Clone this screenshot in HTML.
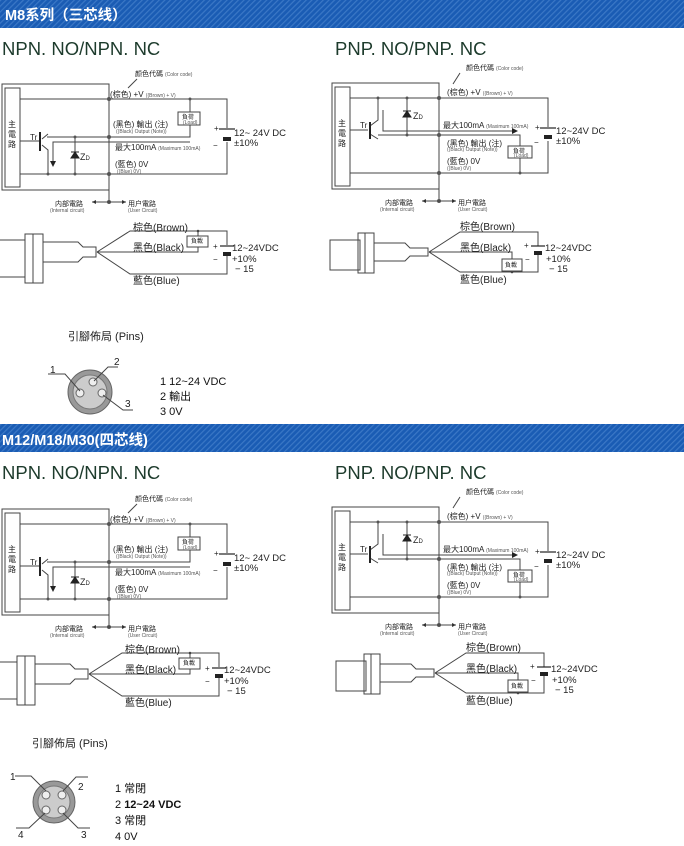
<!DOCTYPE html>
<html><head><meta charset="utf-8"><style>
html,body{margin:0;padding:0;background:#fff;width:684px;height:846px;overflow:hidden}
svg{display:block}
text{font-family:"Liberation Sans","Noto Sans CJK SC",sans-serif;fill:#222}
.l{stroke:#444;stroke-width:1;fill:none}
.s{font-size:5px;fill:#555}
.m{font-size:8px}
.t{font-size:18.5px;fill:#1d3b2c}
.p{font-size:11px;fill:#111}
</style></head><body>
<svg width="684" height="846" viewBox="0 0 684 846" xmlns="http://www.w3.org/2000/svg">
<defs>
<pattern id="st" width="4" height="4" patternUnits="userSpaceOnUse" patternTransform="rotate(45)">
<rect width="4" height="4" fill="#1a5cb4"/><rect width="1.2" height="4" fill="#3b78c6"/></pattern>
</defs>
<rect x="0" y="0" width="684" height="28" fill="url(#st)"/>
<text x="5" y="20" style="font-size:14.5px;font-weight:bold;fill:#fff">M8系列（三芯线）</text>
<rect x="0" y="424" width="684" height="28" fill="url(#st)"/>
<text x="2" y="445" style="font-size:14.5px;font-weight:bold;fill:#fff">M12/M18/M30(四芯线)</text>

<text class="t" x="2" y="55">NPN. NO/NPN. NC</text>
<text class="t" x="335" y="55">PNP. NO/PNP. NC</text>
<text class="t" x="2" y="479">NPN. NO/NPN. NC</text>
<text class="t" x="335" y="479">PNP. NO/PNP. NC</text>

<!-- NPN schematic -->
<g id="npn1">
<rect class="l" x="2" y="84" width="107" height="106"/>
<rect class="l" x="5" y="88" width="15" height="99"/>
<text x="8" y="127" style="font-size:8px">主</text><text x="8" y="137" style="font-size:8px">電</text><text x="8" y="147" style="font-size:8px">路</text>
<path class="l" d="M20 99H227V128M227 142V174H20M109 84V202M47 137H190V125M190 112V99M20 141H40M42 139L48 134M42 145L48 150V174M75 137V174M190 142H53V162"/>
<path d="M40 132V151" stroke="#222" stroke-width="2"/>
<path d="M50 161L53 167L56 161Z" fill="#222"/>
<path d="M71 152H79M71 158H79L75 152Z" fill="#222" stroke="#222" stroke-width="1"/>
<text x="80" y="160" style="font-size:9px">Z<tspan style="font-size:6px">D</tspan></text>
<text x="30" y="140" style="font-size:8px">Tr</text>
<rect class="l" x="178" y="112" width="22" height="13" fill="#fff"/>
<text x="182" y="119" style="font-size:6px">負荷</text><text x="183" y="124" class="s">(Load)</text>
<g fill="#555"><circle cx="109" cy="99" r="2"/><circle cx="109" cy="137" r="2"/><circle cx="109" cy="174" r="2"/><circle cx="109" cy="202" r="2"/><circle cx="75" cy="137" r="1.5"/><circle cx="75" cy="174" r="1.5"/><circle cx="48" cy="174" r="1.5"/><circle cx="190" cy="99" r="1.5"/></g>
<path d="M219 129H235" stroke="#222" stroke-width="1.2"/><rect x="223" y="137" width="8" height="4" fill="#222"/>
<text x="214" y="131" class="m">+</text><text x="213" y="148" class="m">−</text>
<text x="234" y="136" style="font-size:9.5px">12~ 24V DC</text><text x="234" y="146" style="font-size:9.5px">±10%</text>
<text x="110" y="97" class="m">(棕色) +V <tspan class="s">((Brown) + V)</tspan></text>
<text x="113" y="127" class="m">(黑色) 輸出 (注)</text><text x="116" y="133" class="s">((Black) Output (Note))</text>
<text x="115" y="150" class="m">最大100mA <tspan class="s">(Maximum 100mA)</tspan></text>
<text x="115" y="167" class="m">(藍色) 0V</text><text x="117" y="173" class="s">((Blue) 0V)</text>
<text x="135" y="76" style="font-size:7px">颜色代碼 <tspan class="s">(Color code)</tspan></text>
<path class="l" d="M137 79L128 88"/>
<path class="l" d="M92 202H126"/><path d="M92 202l4-2v4zM126 202l-4-2v4z" fill="#333"/>
<text x="55" y="206" style="font-size:7px">内部電路</text><text x="50" y="212" class="s">(Internal circuit)</text>
<text x="128" y="206" style="font-size:7px">用户電路</text><text x="128" y="212" class="s">(User Circuit)</text>
</g>
<use href="#npn1" transform="translate(0,425)"/>

<!-- PNP schematic -->
<g id="pnp1">
<rect class="l" x="332" y="83" width="107" height="106"/>
<rect class="l" x="335" y="87" width="15" height="99"/>
<text x="338" y="126" style="font-size:8px">主</text><text x="338" y="136" style="font-size:8px">電</text><text x="338" y="146" style="font-size:8px">路</text>
<path class="l" d="M350 98H548V127M548 141V173H350M439 83V201M350 130H368M370 126L378 120V98M370 134L378 139M378 135H520V146M520 158V173M407 98V135M383 110V131H513"/>
<path d="M370 122V139" stroke="#222" stroke-width="2"/>
<path d="M512 128L518 131L512 134Z" fill="#222"/>
<path d="M403 111H411M403 117H411L407 111Z" fill="#222" stroke="#222"/>
<text x="413" y="119" style="font-size:9px">Z<tspan style="font-size:6px">D</tspan></text>
<text x="360" y="128" style="font-size:8px">Tr</text>
<rect class="l" x="508" y="146" width="24" height="12" fill="#fff"/>
<text x="513" y="153" style="font-size:6px">負荷</text><text x="514" y="157" class="s">(Load)</text>
<g fill="#555"><circle cx="439" cy="98" r="2"/><circle cx="439" cy="135" r="2"/><circle cx="439" cy="173" r="2"/><circle cx="439" cy="201" r="2"/><circle cx="378" cy="98" r="1.5"/><circle cx="407" cy="98" r="1.5"/><circle cx="407" cy="135" r="1.5"/><circle cx="520" cy="173" r="1.5"/></g>
<path d="M540 128H556" stroke="#222" stroke-width="1.2"/><rect x="544" y="135" width="8" height="4" fill="#222"/>
<text x="535" y="130" class="m">+</text><text x="534" y="145" class="m">−</text>
<text x="556" y="134" style="font-size:9.5px">12~24V DC</text><text x="556" y="144" style="font-size:9.5px">±10%</text>
<text x="447" y="95" class="m">(棕色) +V <tspan class="s">((Brown) + V)</tspan></text>
<text x="443" y="128" class="m">最大100mA <tspan class="s">(Maximum 100mA)</tspan></text>
<text x="447" y="146" class="m">(黑色) 輸出 (注)</text><text x="447" y="151" class="s">((Black) Output (Note))</text>
<text x="447" y="164" class="m">(藍色) 0V</text><text x="447" y="170" class="s">((Blue) 0V)</text>
<text x="466" y="70" style="font-size:7px">颜色代碼 <tspan class="s">(Color code)</tspan></text>
<path class="l" d="M460 73L453 84"/>
<path class="l" d="M422 201H456"/><path d="M422 201l4-2v4zM456 201l-4-2v4z" fill="#333"/>
<text x="385" y="205" style="font-size:7px">内部電路</text><text x="380" y="211" class="s">(Internal circuit)</text>
<text x="458" y="205" style="font-size:7px">用户電路</text><text x="458" y="211" class="s">(User Circuit)</text>
</g>
<use href="#pnp1" transform="translate(0,424)"/>

<!-- NPN cable -->
<g id="nc1">
<rect class="l" x="-2" y="240" width="27" height="37"/>
<rect class="l" x="25" y="234" width="8" height="49" fill="#eee"/><rect class="l" x="33" y="234" width="10" height="49" fill="#ddd"/>
<path class="l" d="M43 242H78L83 247H96V257H83L78 262H43"/>
<path class="l" d="M97 252L130 231H227V245M227 254V274H130L97 252M97 252H198V247M198 236V231"/>
<rect class="l" x="187" y="236" width="21" height="11" fill="#fff"/>
<text x="191" y="243" style="font-size:6px">負載</text>
<circle cx="198" cy="231" r="1.3" fill="#444"/>
<path d="M220 246H234" stroke="#222" stroke-width="1.2"/><rect x="223" y="252" width="8" height="4" fill="#222"/>
<text x="213" y="249" class="m">+</text><text x="213" y="262" class="m">−</text>
<text x="232" y="251" style="font-size:9.5px">12~24VDC</text><text x="232" y="262" style="font-size:9.5px">+10%</text><text x="235" y="272" style="font-size:9.5px">− 15</text>
<text x="133" y="231" style="font-size:10px">棕色(Brown)</text>
<text x="133" y="251" style="font-size:10px">黑色(Black)</text>
<text x="133" y="284" style="font-size:10px">藍色(Blue)</text>
</g>
<use href="#nc1" transform="translate(-8,422)"/>

<!-- PNP cable -->
<g id="pc1">
<rect class="l" x="330" y="240" width="30" height="30"/>
<rect class="l" x="358" y="233" width="7" height="40" fill="#eee"/><rect class="l" x="365" y="233" width="9" height="40" fill="#ddd"/>
<path class="l" d="M374 243H405L410 248H428V256H410L405 261H374"/>
<path class="l" d="M429 252L460 232H538V246M538 254V272H460L429 252M429 252H512V259M512 271V272"/>
<rect class="l" x="502" y="259" width="20" height="12" fill="#fff"/>
<text x="505" y="267" style="font-size:6px">負載</text>
<circle cx="512" cy="272" r="1.3" fill="#444"/>
<path d="M531 246H545" stroke="#222" stroke-width="1.2"/><rect x="534" y="251" width="8" height="4" fill="#222"/>
<text x="524" y="248" class="m">+</text><text x="525" y="262" class="m">−</text>
<text x="545" y="251" style="font-size:9.5px">12~24VDC</text><text x="546" y="262" style="font-size:9.5px">+10%</text><text x="549" y="272" style="font-size:9.5px">− 15</text>
<text x="460" y="230" style="font-size:10px">棕色(Brown)</text>
<text x="460" y="251" style="font-size:10px">黑色(Black)</text>
<text x="460" y="283" style="font-size:10px">藍色(Blue)</text>
</g>
<use href="#pc1" transform="translate(6,421)"/>

<!-- Pins 1 -->
<text x="68" y="340" style="font-size:11px">引腳佈局 (Pins)</text>
<circle cx="90" cy="392" r="22" fill="#999" stroke="#666"/>
<circle cx="90" cy="392" r="17" fill="#ccc" stroke="#777"/>
<g fill="#eee" stroke="#666"><circle cx="93" cy="382" r="4"/><circle cx="80" cy="393" r="4"/><circle cx="102" cy="393" r="4"/></g>
<path class="l" d="M48 374H65L80 391M118 367H108L94 381M133 410H123L103 395"/>
<text x="50" y="373" style="font-size:10px">1</text><text x="114" y="365" style="font-size:10px">2</text><text x="125" y="407" style="font-size:10px">3</text>
<text class="p" x="160" y="385">1 12~24 VDC</text>
<text class="p" x="160" y="400">2 輸出</text>
<text class="p" x="160" y="415">3 0V</text>

<!-- Pins 2 -->
<text x="32" y="747" style="font-size:11px">引腳佈局 (Pins)</text>
<circle cx="54" cy="802" r="21" fill="#999" stroke="#666"/>
<circle cx="54" cy="802" r="16" fill="#ccc" stroke="#777"/>
<g fill="#eee" stroke="#666"><circle cx="46" cy="795" r="4"/><circle cx="62" cy="795" r="4"/><circle cx="46" cy="810" r="4"/><circle cx="62" cy="810" r="4"/></g>
<path class="l" d="M15 776H31L46 791M88 777H76L63 791M16 828H29L45 813M90 828H78L63 813"/>
<text x="10" y="780" style="font-size:10px">1</text><text x="78" y="790" style="font-size:10px">2</text><text x="18" y="838" style="font-size:10px">4</text><text x="81" y="838" style="font-size:10px">3</text>
<text class="p" x="115" y="792">1 常閉</text>
<text class="p" x="115" y="808">2 <tspan style="font-weight:bold">12~24 VDC</tspan></text>
<text class="p" x="115" y="824">3 常閉</text>
<text class="p" x="115" y="840">4 0V</text>
</svg>
</body></html>
